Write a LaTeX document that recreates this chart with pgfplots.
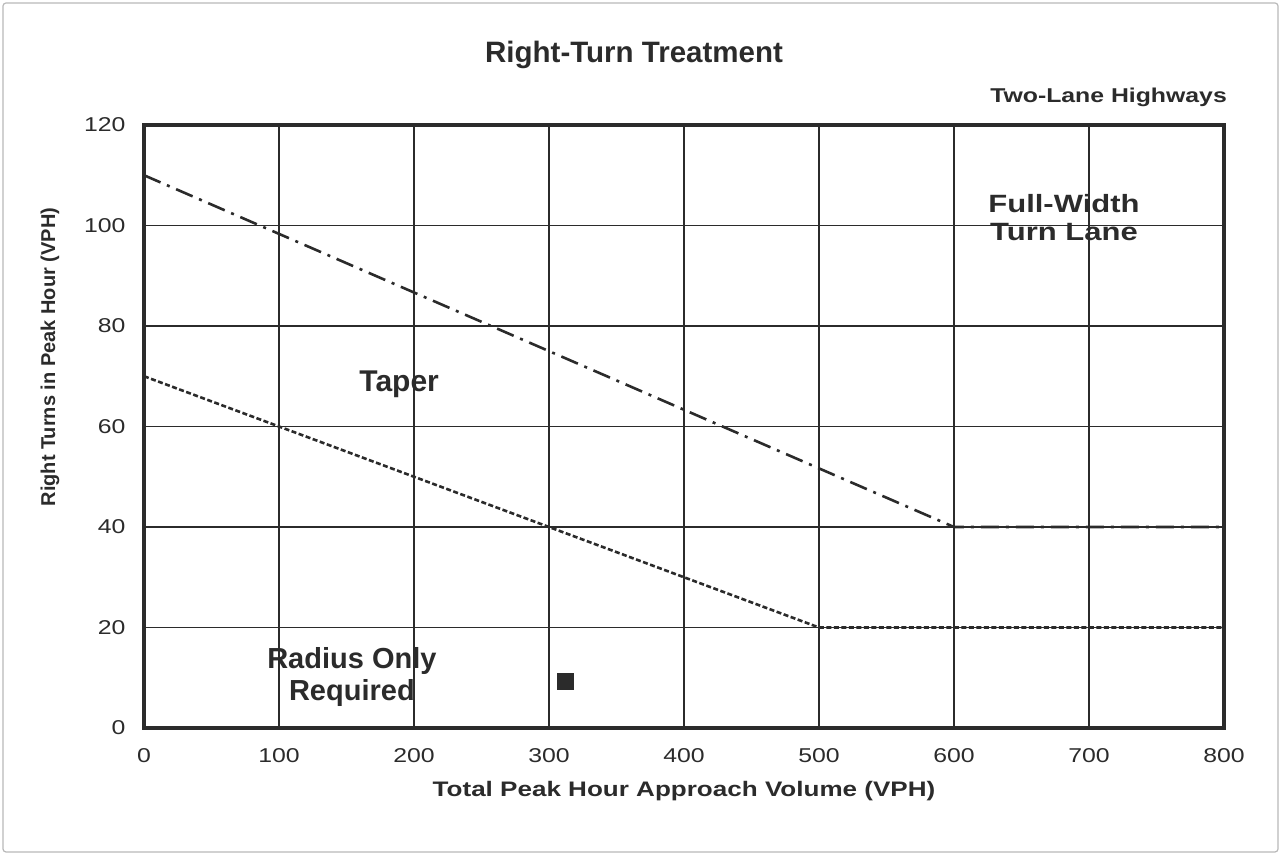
\documentclass[border=0pt]{standalone}
\usepackage{pgfplots}
\pgfplotsset{compat=1.18}
\usepackage{fontspec}
\setmainfont{Liberation Sans}
\newfontfamily\widesans[FakeStretch=1.24]{Liberation Sans}
\definecolor{ink}{HTML}{2B2B2B}
\begin{document}
\begin{tikzpicture}[x=1bp,y=1bp]
\useasboundingbox (0,0) rectangle (1281,855);
\draw[gray!55, line width=1.2bp, rounded corners=3bp] (3,3) rectangle (1278,852);
\node[anchor=base, font=\fontsize{29.5bp}{34bp}\selectfont\bfseries, text=ink, inner sep=0pt] at (634,792) {Right-Turn Treatment};
\node[anchor=base east, font=\widesans\bfseries\fontsize{20bp}{24bp}\selectfont, text=ink, inner sep=0pt] at (1227,752) {Two-Lane Highways};
\begin{axis}[
  at={(144bp,127bp)}, anchor=south west,
  scale only axis, width=1080bp, height=603bp,
  xmin=0, xmax=800, ymin=0, ymax=120,
  xtick={0,100,...,800}, ytick={0,20,...,120},
  major tick length=0pt,
  grid=major, major grid style={ink, line width=1.6bp},
  axis line style={ink, line width=4bp},
  tick label style={font=\widesans\fontsize{20bp}{24bp}\selectfont, text=ink},
  /pgf/number format/assume math mode=true,
  xticklabel style={yshift=-17bp},
  yticklabel style={xshift=-15bp},
  xlabel={Total Peak Hour Approach Volume (VPH)},
  ylabel={Right Turns in Peak Hour (VPH)},
  xlabel style={at={(axis description cs:0.5,-0.1045)}, anchor=center, font=\widesans\bfseries\fontsize{21bp}{25bp}\selectfont, text=ink},
  ylabel style={at={(axis description cs:-0.087,0.615)}, anchor=center, font=\bfseries\fontsize{20bp}{24bp}\selectfont, text=ink},
  clip=false,
]
\addplot[ink, line width=2.6bp, dash pattern=on 18bp off 7bp on 3bp off 7bp] coordinates {(0,110) (600,40) (800,40)};
\addplot[ink, line width=2.6bp, dash pattern=on 5bp off 2.5bp] coordinates {(0,70) (500,20) (800,20)};
\addplot[only marks, mark=square*, mark size=8bp, ink] coordinates {(312,9.4)};
\node[anchor=base, font=\bfseries\fontsize{30bp}{36bp}\selectfont, text=ink, inner sep=0pt] at (axis cs:189,66.9) {Taper};
\node[anchor=base, font=\widesans\bfseries\fontsize{25bp}{30bp}\selectfont, text=ink, inner sep=0pt] at (axis cs:681.5,102.5) {Full-Width};
\node[anchor=base, font=\widesans\bfseries\fontsize{25bp}{30bp}\selectfont, text=ink, inner sep=0pt] at (axis cs:681.5,97.1) {Turn Lane};
\node[anchor=base, font=\bfseries\fontsize{29bp}{34bp}\selectfont, text=ink, inner sep=0pt] at (axis cs:154,11.8) {Radius Only};
\node[anchor=base, font=\bfseries\fontsize{29bp}{34bp}\selectfont, text=ink, inner sep=0pt] at (axis cs:154,5.4) {Required};
\end{axis}
\end{tikzpicture}
\end{document}
